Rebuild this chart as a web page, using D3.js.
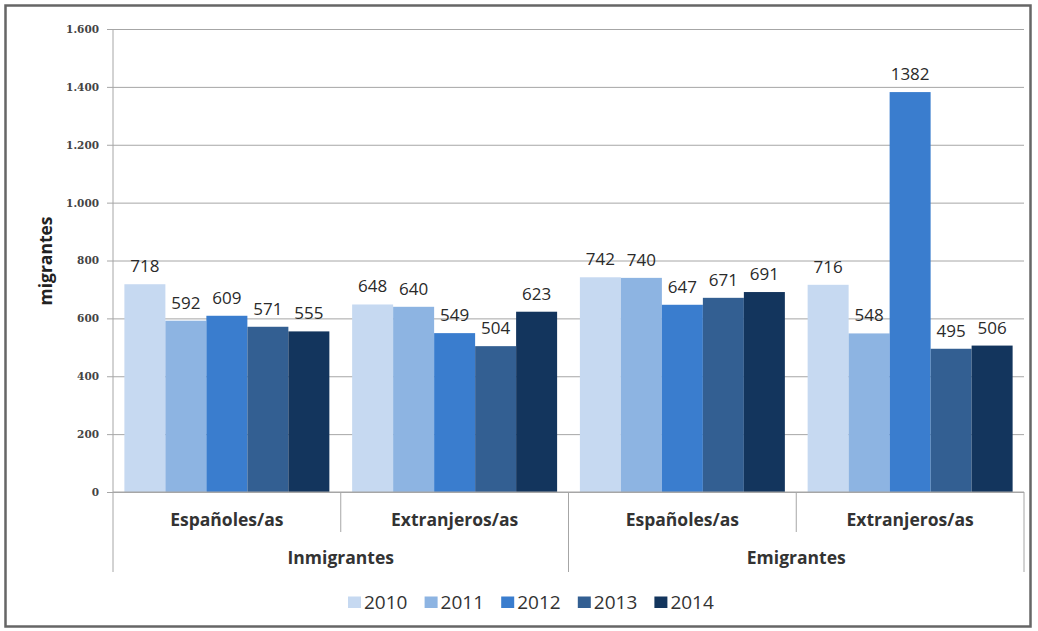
<!DOCTYPE html>
<html><head><meta charset="utf-8">
<script src="https://cdn.jsdelivr.net/npm/d3@7"></script>
<style>body{margin:0;background:#fff}svg{display:block}</style>
</head><body>
<svg id="c" width="1038" height="631"></svg>
<script>
const groups = ["Inmigrantes", "Emigrantes"];
const subcats = ["Españoles/as", "Extranjeros/as"];
const years = ["2010", "2011", "2012", "2013", "2014"];
const v2010 = [718, 648, 742, 716];
const v2011 = [592, 640, 740, 548];
const v2012 = [609, 549, 647, 1382];
const v2013 = [571, 504, 671, 495];
const v2014 = [555, 623, 691, 506];
const yTicks = [0, 200, 400, 600, 800, 1000, 1200, 1400, 1600];
const colors = ["#c6d9f1", "#8db4e2", "#3a7dce", "#335f92", "#13355d"];

(function () {
const series = [v2010, v2011, v2012, v2013, v2014];
const cats = [];
groups.forEach(g => subcats.forEach(s => cats.push(g + "|" + s)));

const svg = d3.select("#c");
const font = "'Open Sans', Lato, sans-serif";
const pLeft = 113, pRight = 1024, pTop = 29, pBottom = 492;

svg.append("rect").attr("x", 5.5).attr("y", 5.5).attr("width", 1025).attr("height", 621)
  .attr("fill", "#fff").attr("stroke", "#666").attr("stroke-width", 2.5);

const y = d3.scaleLinear().domain([0, 1600]).range([pBottom, pTop]);
const x0 = d3.scaleBand().domain(cats).range([pLeft, pRight]).paddingInner(0.1).paddingOuter(0.05);
const x1 = d3.scaleBand().domain(years).range([0, x0.bandwidth()]);
const xc = d3.scaleBand().domain(cats).range([pLeft, pRight]);

const yAxis = d3.axisLeft(y).tickValues(yTicks)
  .tickFormat(d => d3.format(",")(d).replace(/,/g, "."))
  .tickSize(-(pRight - pLeft)).tickPadding(14);
const gy = svg.append("g").attr("transform", `translate(${pLeft},0)`).call(yAxis);
gy.select(".domain").remove();
gy.selectAll(".tick line").attr("stroke", "#a6a6a6").attr("x1", -6);
gy.selectAll(".tick text").attr("font-family", "'DejaVu Serif', serif").attr("font-size", 10.5)
  .attr("font-weight", "bold").attr("fill", "#444");

const gBars = svg.append("g");
years.forEach((yr, i) => {
  gBars.selectAll(null).data(series[i]).enter().append("rect")
    .attr("x", (d, j) => x0(cats[j]) + x1(yr))
    .attr("y", d => y(d))
    .attr("width", x1.bandwidth())
    .attr("height", d => pBottom - y(d))
    .attr("fill", colors[i]);
  gBars.selectAll(null).data(series[i]).enter().append("text")
    .attr("x", (d, j) => x0(cats[j]) + x1(yr) + x1.bandwidth() / 2)
    .attr("y", d => y(d) - 12)
    .attr("text-anchor", "middle")
    .attr("font-family", font).attr("font-size", 17).attr("fill", "#2a2a2a")
    .text(d => d);
});

const axisColor = "#a6a6a6";
svg.append("line").attr("x1", pLeft).attr("x2", pLeft).attr("y1", pTop).attr("y2", 572).attr("stroke", axisColor);
svg.append("line").attr("x1", pLeft).attr("x2", pRight).attr("y1", pBottom).attr("y2", pBottom).attr("stroke", axisColor);
cats.forEach((c, j) => {
  const xe = xc(c) + xc.bandwidth();
  const isGroupEnd = (j % subcats.length) === subcats.length - 1;
  svg.append("line").attr("x1", xe).attr("x2", xe).attr("y1", pBottom)
    .attr("y2", isGroupEnd ? 572 : 532).attr("stroke", axisColor);
  svg.append("text").attr("x", xc(c) + xc.bandwidth() / 2).attr("y", 526)
    .attr("text-anchor", "middle").attr("font-family", font).attr("font-size", 17.5)
    .attr("font-weight", "bold").attr("fill", "#333").text(c.split("|")[1]);
});
groups.forEach((g, k) => {
  const xa = xc(cats[k * subcats.length]);
  const xb = xc(cats[k * subcats.length + subcats.length - 1]) + xc.bandwidth();
  svg.append("text").attr("x", (xa + xb) / 2).attr("y", 564)
    .attr("text-anchor", "middle").attr("font-family", font).attr("font-size", 17.5)
    .attr("font-weight", "bold").attr("fill", "#333").text(g);
});

svg.append("text").attr("transform", "translate(52,261) rotate(-90)")
  .attr("text-anchor", "middle").attr("font-family", font).attr("font-size", 17.5)
  .attr("font-weight", "bold").attr("fill", "#222").text("migrantes");

const lx = d3.scaleBand().domain(years).range([348, 731]);
const lg = svg.append("g");
years.forEach((yr, i) => {
  lg.append("rect").attr("x", lx(yr)).attr("y", 596.5).attr("width", 13).attr("height", 11.5).attr("fill", colors[i]);
  lg.append("text").attr("x", lx(yr) + 16).attr("y", 608.5).attr("font-family", font)
    .attr("font-size", 19).attr("fill", "#333").text(yr);
});
})();
</script>
</body></html>
